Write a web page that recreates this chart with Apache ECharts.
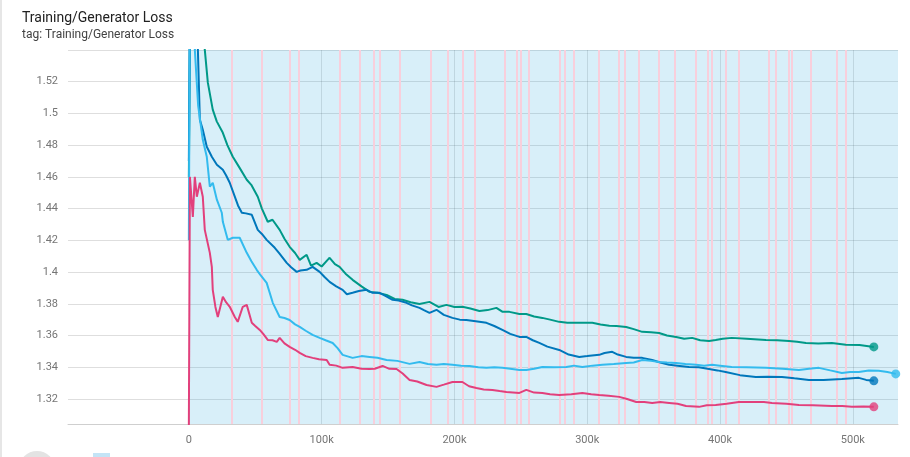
<!DOCTYPE html>
<html>
<head>
<meta charset="utf-8">
<script src="https://cdn.jsdelivr.net/npm/echarts@6/dist/echarts.min.js"></script>
<style>
  html, body { margin: 0; padding: 0; background: #fff; }
  #chart { width: 910px; height: 457px; }
</style>
</head>
<body>
<div id="chart"></div>
<script>
// smoothed curves, [step in k, loss]
const tealRun = [[0,1.46],[1.5,1.62],[12,1.5402],[14.3,1.5194],[18,1.5024],[21,1.495],[25.6,1.4878],[29,1.480],[33.1,1.4727],[38,1.466],[43.6,1.4582],[47,1.455],[51.9,1.4475],[55,1.440],[59.4,1.4317],[63,1.433],[68.4,1.4266],[72,1.421],[75.9,1.4159],[80,1.412],[83.5,1.4077],[88.7,1.4109],[92,1.404],[96.2,1.4058],[100,1.4035],[104.5,1.4077],[106,1.409],[110,1.405],[113.5,1.4033],[118,1.399],[123.3,1.3951],[130,1.391],[136.1,1.3875],[142,1.387],[148.9,1.3856],[155,1.383],[160.9,1.3825],[167,1.381],[173.7,1.3799],[181.2,1.3812],[188,1.378],[194,1.3793],[200,1.378],[206,1.3781],[212,1.377],[218.8,1.3755],[225,1.376],[231.6,1.3774],[236,1.375],[241.4,1.3749],[248.9,1.3736],[254.1,1.3736],[260,1.372],[266.2,1.3711],[272,1.370],[278.9,1.3686],[285,1.368],[291.7,1.368],[297,1.368],[303.8,1.368],[310,1.367],[316.6,1.3661],[322,1.366],[329.3,1.3654],[335,1.364],[341.4,1.3623],[348,1.362],[354.1,1.3616],[360,1.360],[366.9,1.3591],[373,1.358],[379,1.3585],[385,1.357],[391.7,1.3566],[396.7,1.3572],[402,1.358],[408.8,1.3585],[420,1.358],[434.6,1.3572],[443,1.357],[451.9,1.3566],[458,1.356],[464.7,1.3553],[474,1.355],[484.2,1.3553],[494.7,1.3541],[505,1.354],[515.8,1.3528]];
const blueRun = [[0,1.47],[1.2,1.62],[6.8,1.5402],[8.3,1.496],[10.5,1.4897],[13.5,1.479],[17.3,1.4727],[21.1,1.4677],[25.6,1.4645],[28,1.461],[30.8,1.4563],[34.6,1.4475],[37,1.442],[39.9,1.4374],[43,1.437],[47.4,1.4361],[51.9,1.4266],[55,1.424],[58.6,1.4203],[64.7,1.4153],[68,1.412],[73.7,1.4058],[77,1.403],[81.2,1.4001],[84,1.401],[88.7,1.4014],[93.2,1.4033],[98.5,1.4001],[102,1.397],[106,1.3938],[111,1.391],[115.8,1.3888],[119,1.386],[123.3,1.3869],[128,1.388],[133.8,1.3888],[138,1.387],[143.6,1.3869],[148,1.385],[153.4,1.3825],[158,1.382],[163.9,1.3806],[168,1.379],[173.7,1.3774],[177,1.376],[181.2,1.3743],[186.5,1.3762],[192,1.373],[198.5,1.3711],[204,1.370],[209,1.3698],[216,1.369],[224.1,1.368],[230,1.366],[236.1,1.3635],[242,1.361],[248.9,1.3591],[254.1,1.3591],[259,1.357],[263.9,1.3553],[270,1.353],[278.9,1.3509],[286,1.348],[294,1.3465],[300,1.347],[309,1.3478],[313,1.349],[318.8,1.3497],[323,1.348],[329.3,1.3465],[335,1.346],[341.4,1.3459],[348.9,1.3446],[355,1.343],[361.7,1.3415],[368,1.341],[376.7,1.3402],[384,1.340],[391.7,1.3389],[398,1.338],[404.2,1.337],[415,1.335],[426.9,1.3339],[436,1.334],[446.6,1.3339],[456,1.333],[466.9,1.332],[478,1.332],[491.7,1.3326],[504.5,1.3333],[510,1.332],[515.8,1.3314]];
const cyanRun = [[0,1.42],[1,1.62],[4.5,1.5402],[7,1.505],[10.5,1.4834],[13.5,1.4727],[15.8,1.4538],[18,1.4563],[21.1,1.4456],[24.8,1.4374],[25.6,1.4317],[29.3,1.4203],[33.1,1.4216],[38.3,1.4216],[43.6,1.4121],[47,1.407],[51.1,1.4014],[54,1.398],[58.6,1.3932],[63.2,1.3806],[68.4,1.3717],[72,1.371],[75.9,1.3698],[80,1.367],[83.5,1.3654],[88,1.363],[93.2,1.3604],[98.5,1.3585],[103,1.357],[108.3,1.3553],[112,1.352],[115.8,1.3478],[123.3,1.3459],[130,1.347],[136.1,1.3465],[142,1.346],[148.9,1.3446],[157,1.344],[166.2,1.3421],[173.7,1.3433],[180,1.342],[186.5,1.3415],[192,1.342],[198.5,1.3415],[205,1.341],[211.3,1.3408],[218,1.340],[224.1,1.3396],[230,1.340],[236.1,1.3396],[242,1.339],[248.9,1.3383],[254.1,1.3383],[260,1.339],[266.2,1.3402],[275,1.340],[284.2,1.3402],[290,1.341],[296.3,1.3402],[304,1.341],[311.3,1.3415],[320,1.342],[329.3,1.3427],[335,1.343],[341.4,1.3446],[348,1.344],[354.1,1.3433],[360,1.343],[366.9,1.3427],[374,1.342],[382,1.3415],[388,1.341],[394,1.3415],[400,1.341],[408.8,1.3402],[420,1.340],[434.6,1.3396],[447,1.339],[459.4,1.3383],[467,1.339],[474.4,1.3396],[483,1.338],[491.7,1.3364],[498,1.337],[504.5,1.337],[512,1.338],[519.5,1.3377],[526,1.337],[532.3,1.3358]];
const pinkRun = [[0,1.302],[0.8,1.46],[3,1.4348],[4.5,1.4601],[6,1.4475],[8.3,1.4563],[10.5,1.4475],[12,1.4266],[15.8,1.4121],[17.3,1.4033],[18,1.3888],[20,1.378],[21.8,1.3717],[25.6,1.3844],[28,1.381],[30.8,1.3781],[34.6,1.3717],[36.8,1.3686],[40.6,1.3781],[43.6,1.3793],[47.4,1.368],[50,1.366],[53.4,1.3635],[56,1.361],[59.4,1.3572],[63,1.357],[66.2,1.356],[68.4,1.3585],[72,1.355],[75.9,1.3528],[80,1.351],[83.5,1.349],[88,1.347],[93.2,1.3459],[98,1.345],[103.8,1.3446],[106,1.3415],[111,1.341],[115.8,1.3396],[123.3,1.3402],[130,1.339],[136.1,1.3389],[140,1.339],[145.9,1.3408],[151,1.339],[156.4,1.3389],[161,1.336],[166.2,1.332],[172,1.331],[179,1.3288],[186.5,1.3276],[192,1.329],[198.5,1.3307],[206,1.3307],[211,1.328],[216.5,1.3269],[222,1.326],[228.6,1.3257],[234,1.325],[239.1,1.3244],[248.9,1.3238],[254.1,1.3257],[260,1.324],[266.2,1.3238],[272,1.323],[278.9,1.3225],[288,1.323],[296.3,1.3238],[303,1.323],[309,1.3225],[316,1.322],[324.1,1.3213],[330,1.320],[336.9,1.3181],[343,1.318],[348.9,1.3175],[355,1.318],[361.7,1.3175],[368,1.317],[374.4,1.3156],[384.2,1.315],[390,1.316],[396.7,1.3162],[405,1.317],[414.1,1.3181],[420,1.318],[426.9,1.3181],[433,1.318],[439.1,1.3175],[450,1.317],[459.4,1.3162],[470,1.316],[484.2,1.3156],[492,1.3155],[499.3,1.315],[508,1.3152],[515.8,1.315]];

// raw (unsmoothed) data band and the pink raw streaks, steps in k
const rawBand = [0, 534];
const pinkStreaks = [32, 55, 76, 83, 114, 129, 139, 144, 159, 182, 195, 206, 215, 238, 247, 250, 256, 279, 283, 290, 309, 324, 328, 339, 354, 366, 382, 391, 394, 404, 414, 437, 442, 452, 454, 468, 488, 495];

const yTicks = [1.32, 1.34, 1.36, 1.38, 1.4, 1.42, 1.44, 1.46, 1.48, 1.5, 1.52, 1.54];
const yLabels = [1.32, 1.34, 1.36, 1.38, 1.4, 1.42, 1.44, 1.46, 1.48, 1.5, 1.52];
const xTicks = [0, 100000, 200000, 300000, 400000, 500000];

const colors = { teal: '#009988', blue: '#0077bb', cyan: '#33bbee', pink: '#e2407c' };

const toSteps = (arr) => arr.map((p) => [p[0] * 1000, p[1]]);

function runSeries(name, arr, color) {
  return {
    name: name,
    type: 'line',
    data: toSteps(arr),
    symbol: 'none',
    clip: true,
    lineStyle: { color: color, width: 2 },
    itemStyle: { color: color },
    z: 5,
    silent: true,
  };
}

const runs = [
  ['teal', tealRun],
  ['blue', blueRun],
  ['cyan', cyanRun],
  ['pink', pinkRun],
];

const chart = echarts.init(document.getElementById('chart'), null, { renderer: 'canvas' });

const series = [
  {
    name: 'raw',
    type: 'line',
    data: [],
    silent: true,
    markArea: {
      silent: true,
      itemStyle: { color: 'rgba(60,175,225,0.2)' },
      data: [[{ xAxis: rawBand[0] * 1000 }, { xAxis: rawBand[1] * 1000 }]],
    },
    markLine: {
      silent: true,
      symbol: ['none', 'none'],
      label: { show: false },
      lineStyle: { color: '#f8cfdc', width: 2, type: 'solid' },
      data: pinkStreaks.map((s) => ({ xAxis: s * 1000 })),
    },
    z: 1,
  },
];
runs.forEach((r) => series.push(runSeries(r[0], r[1], colors[r[0]])));
// end dots
series.push({
  type: 'scatter',
  symbolSize: 9,
  z: 6,
  silent: true,
  data: runs.map((r) => ({
    value: [r[1][r[1].length - 1][0] * 1000, r[1][r[1].length - 1][1]],
    itemStyle: { color: colors[r[0]] },
  })),
});

const option = {
  backgroundColor: '#fff',
  animation: false,
  textStyle: { fontFamily: 'Roboto' },
  title: {
    text: 'Training/Generator Loss',
    subtext: 'tag: Training/Generator Loss',
    left: 17,
    top: 6,
    itemGap: 4,
    textStyle: { fontSize: 14, fontWeight: 'normal', color: '#212121', fontFamily: 'Roboto' },
    subtextStyle: { fontSize: 12, color: '#424242', fontFamily: 'Roboto' },
  },
  grid: { left: 68, right: 12, top: 50, bottom: 33 },
  xAxis: {
    type: 'value',
    min: -91000,
    max: 534000,
    axisLine: { show: true, lineStyle: { color: '#cfcfcf' } },
    axisTick: { show: false, customValues: xTicks },
    splitLine: { show: true, lineStyle: { color: 'rgba(0,0,0,0.12)' } },
    axisLabel: {
      customValues: xTicks,
      color: '#757575',
      fontSize: 11,
      margin: 11,
      formatter: (v) => (v === 0 ? '0' : v / 1000 + 'k'),
    },
  },
  yAxis: {
    type: 'value',
    min: 1.3042,
    max: 1.54,
    axisLine: { show: true, lineStyle: { color: '#dcdcdc' } },
    axisTick: { show: false, customValues: yTicks },
    splitLine: { show: true, lineStyle: { color: 'rgba(0,0,0,0.13)' } },
    axisLabel: {
      customValues: yLabels,
      color: '#757575',
      fontSize: 11,
      margin: 10,
      formatter: (v) => String(+v.toFixed(2)),
    },
  },
  graphic: [
    { type: 'rect', shape: { x: 0, y: 0, width: 2, height: 457 }, style: { fill: '#e6e6e6' }, silent: true },
    { type: 'circle', shape: { cx: 37, cy: 469, r: 18 }, style: { fill: '#e3e3e3' }, silent: true },
    { type: 'rect', shape: { x: 93, y: 453, width: 17, height: 6 }, style: { fill: '#c4e4f6' }, silent: true },
  ],
  series: series,
};

chart.setOption(option);
</script>
</body>
</html>
